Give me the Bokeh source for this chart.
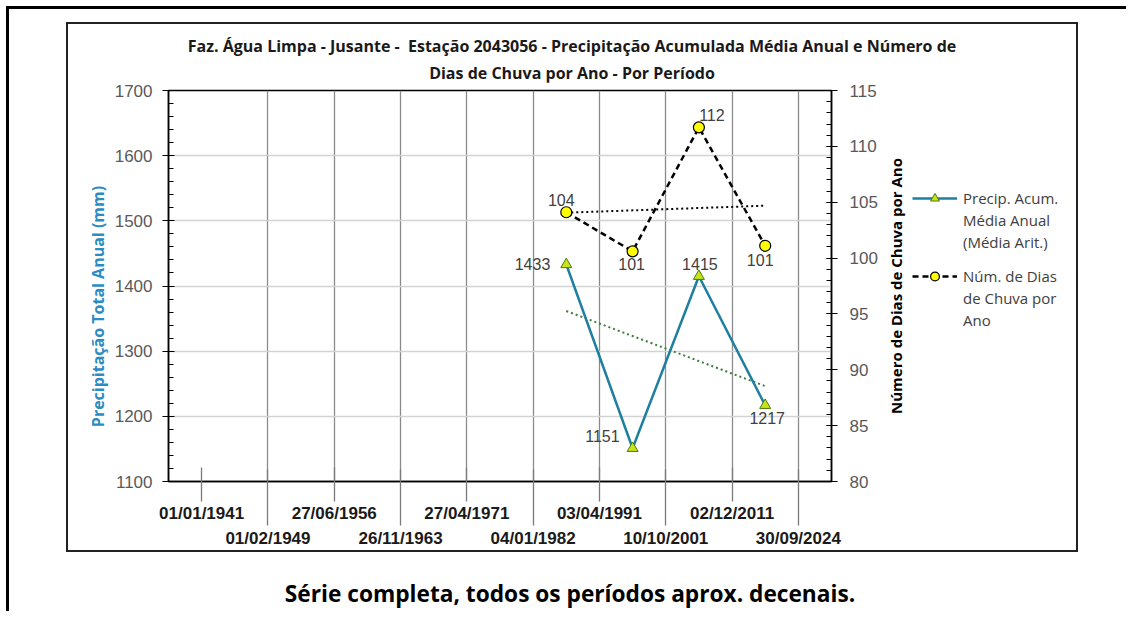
import numpy as np
from bokeh.plotting import figure
from bokeh.models import (Range1d, LinearAxis, FixedTicker, SingleIntervalTicker,
                          Legend, LegendItem, ColumnDataSource, Div)
from bokeh.layouts import column, row
from bokeh.core.properties import value
from bokeh.embed import file_html
from bokeh.resources import INLINE

# ---------------- data ----------------
title_line1 = "Faz. Água Limpa - Jusante -  Estação 2043056 - Precipitação Acumulada Média Anual e Número de"
title_line2 = "Dias de Chuva por Ano - Por Período"
caption_text = "Série completa, todos os períodos aprox. decenais."
left_label = "Precipitação Total Anual (mm)"
right_label = "Número de Dias de Chuva por Ano"

date_labels = ["01/01/1941", "01/02/1949", "27/06/1956", "26/11/1963", "27/04/1971",
               "04/01/1982", "03/04/1991", "10/10/2001", "02/12/2011", "30/09/2024"]
period_start = ["04/01/1982", "03/04/1991", "10/10/2001", "02/12/2011"]
period_end = ["03/04/1991", "10/10/2001", "02/12/2011", "30/09/2024"]
precip_mm = [1433, 1151, 1415, 1217]
rain_days = [104.1, 100.6, 111.7, 101.1]

legend_precip = ["Precip. Acum.", "Média Anual", "(Média Arit.)"]
legend_days = ["Núm. de Dias", "de Chuva por", "Ano"]

# label placement (styles)
p_align = ["right", "right", "center", "center"]
p_xoff = [-16, -13, 1, 2]
p_yoff = [0, -12, -12, 13]
d_xoff = [-5, -1, 13, -5]
d_yoff = [-12, 13, -12, 14]

# ---------------- derived ----------------
x_pos = [(date_labels.index(s) + date_labels.index(e)) / 2 for s, e in zip(period_start, period_end)]
xs = np.array(x_pos)
trend_p = np.polyval(np.polyfit(xs, precip_mm, 1), xs)
trend_d = np.polyval(np.polyfit(xs, rain_days, 1), xs)

src = ColumnDataSource(dict(
    x=x_pos, precip=precip_mm, days=rain_days,
    plab=[str(v) for v in precip_mm], dlab=[str(int(round(v))) for v in rain_days],
    palign=p_align, pxo=p_xoff, pyo=p_yoff, dxo=d_xoff, dyo=d_yoff,
    tp=list(trend_p), td=list(trend_d)))

TEAL = "#1f7f9f"
TICK_GRAY = "#595959"
TRI_FILL, TRI_LINE = "#c8e21c", "#4d7a0a"


def blank_panel(width, x_end, mbl, mbt, mbb):
    f = figure(width=width, height=468, x_range=Range1d(0, x_end), y_range=Range1d(0, 391),
               output_backend="svg", toolbar_location=None, title=None,
               min_border_left=mbl, min_border_right=0, min_border_top=mbt,
               min_border_bottom=mbb)
    f.xaxis.visible = False
    f.grid.visible = False
    f.outline_line_color = None
    f.background_fill_color = "white"
    f.border_fill_color = "white"
    return f


# ---------------- header (chart title) ----------------
header = Div(text=title_line1 + "\n" + title_line2, render_as_text=True, width=1008, height=58,
             margin=(0, 0, 0, 0),
             styles={"font-family": "Open Sans", "font-weight": "bold", "font-size": "16px",
                     "line-height": "27px", "text-align": "center", "white-space": "pre",
                     "color": "#1a1a1a", "padding-top": "9px", "box-sizing": "border-box"})

# ---------------- left title panel (axis title of the precipitation scale) ----------------
left_fig = blank_panel(42, 42, mbl=0, mbt=8, mbb=69)
left_fig.yaxis.visible = False
left_fig.text(x=[29], y=[175], text=[left_label], angle=90, angle_units="deg",
              text_align="center", text_baseline="middle", text_font=value("Open Sans"),
              text_font_style="bold", text_font_size="16px", text_color="#2b8cc4")

# ---------------- main plot ----------------
p = figure(width=770, height=468, x_range=Range1d(-0.5, 9.5), y_range=Range1d(1100, 1700),
           output_backend="svg", toolbar_location=None, title=None,
           min_border_left=58, min_border_right=48, min_border_top=8, min_border_bottom=69)
p.extra_y_ranges = {"days": Range1d(80, 115)}
p.background_fill_color = "white"
p.border_fill_color = "white"
p.outline_line_color = "black"
p.outline_line_width = 1.5

p.ygrid.grid_line_color = "#d3d3d3"
p.ygrid.grid_line_width = 1.5
p.xgrid.ticker = FixedTicker(ticks=list(range(1, len(date_labels))))
p.xgrid.grid_line_color = "#8a8a8a"
p.xgrid.grid_line_width = 1.3

ya = p.yaxis[0]
ya.ticker = SingleIntervalTicker(interval=100, num_minor_ticks=5)
ya.major_tick_in = 6
ya.major_tick_out = 6
ya.minor_tick_in = 5
ya.minor_tick_out = 0
ya.axis_line_color = "black"
ya.axis_line_width = 1.5
ya.major_tick_line_color = "black"
ya.minor_tick_line_color = "black"
ya.major_label_text_font = "Liberation Sans"
ya.major_label_text_font_size = "17px"
ya.major_label_text_color = TICK_GRAY
ya.major_label_standoff = 10

# bottom axis, row 1 (even boundaries)
xa = p.xaxis[0]
xa.ticker = FixedTicker(ticks=list(range(0, 10, 2)))
xa.major_label_overrides = {i: date_labels[i] for i in range(0, 10, 2)}
xa.major_tick_in = 14
xa.major_tick_out = 20
xa.minor_tick_in = 0
xa.minor_tick_out = 0
xa.major_tick_line_color = "#7a7a7a"
xa.major_tick_line_width = 1.3
xa.axis_line_color = "black"
xa.axis_line_width = 1.5
xa.major_label_text_font = "Liberation Sans"
xa.major_label_text_font_style = "bold"
xa.major_label_text_font_size = "17px"
xa.major_label_text_color = "#1a1a1a"
xa.major_label_standoff = 2

# bottom axis, row 2 (odd boundaries), ticks reach up into the plot
xa2 = LinearAxis(ticker=FixedTicker(ticks=list(range(1, 10, 2))),
                 major_label_overrides={i: date_labels[i] for i in range(1, 10, 2)},
                 major_tick_in=56, major_tick_out=0, minor_tick_in=0, minor_tick_out=0,
                 major_tick_line_color="#7a7a7a", major_tick_line_width=1.3,
                 axis_line_color=None,
                 major_label_text_font="Liberation Sans", major_label_text_font_style="bold",
                 major_label_text_font_size="17px", major_label_text_color="#1a1a1a",
                 major_label_standoff=3)
p.add_layout(xa2, "below")

# right axis
ra = LinearAxis(y_range_name="days", ticker=SingleIntervalTicker(interval=5, num_minor_ticks=5),
                major_tick_in=5, major_tick_out=6, minor_tick_in=5, minor_tick_out=0,
                axis_line_color="black", axis_line_width=1.5,
                major_tick_line_color="black", minor_tick_line_color="black",
                major_label_text_font="Liberation Sans", major_label_text_font_size="17px",
                major_label_text_color=TICK_GRAY, major_label_standoff=12)
p.add_layout(ra, "right")

# trend lines
p.line("x", "tp", source=src, line_color="#3b7d3b", line_width=2, line_dash="2 3")
p.line("x", "td", source=src, line_color="black", line_width=2, line_dash="2 3", y_range_name="days")

# series
p.line("x", "precip", source=src, line_color=TEAL, line_width=2.5)
p.scatter("x", "precip", source=src, marker="triangle", size=11,
          fill_color=TRI_FILL, line_color=TRI_LINE, line_width=1)
p.line("x", "days", source=src, line_color="black", line_width=2.5, line_dash="6 4",
       y_range_name="days")
p.scatter("x", "days", source=src, marker="circle", size=11, fill_color="#ffff00",
          line_color="black", line_width=1.2, y_range_name="days")

# data labels
p.text("x", "precip", text="plab", source=src, x_offset="pxo", y_offset="pyo",
       text_align="palign", text_baseline="middle", text_font=value("Liberation Sans"),
       text_font_size="16px", text_color="#404040")
p.text("x", "days", text="dlab", source=src, x_offset="dxo", y_offset="dyo",
       text_align="center", text_baseline="middle", text_font=value("Liberation Sans"),
       text_font_size="16px", text_color="#404040", y_range_name="days")

# ---------------- side panel: right-axis title + legend ----------------
side = blank_panel(196, 1, mbl=30, mbt=8, mbb=69)
side.x_range = Range1d(-10, -9)
side.y_range = Range1d(-10, -9)
sax = side.yaxis[0]
sax.ticker = FixedTicker(ticks=[])
sax.axis_line_color = None
sax.major_tick_out = 0
sax.major_tick_in = 0
sax.minor_tick_out = 0
sax.minor_tick_in = 0
sax.axis_label = right_label
sax.axis_label_text_font = "Open Sans"
sax.axis_label_text_font_style = "bold"
sax.axis_label_text_font_size = "15px"
sax.axis_label_text_color = "black"
sax.axis_label_standoff = 5

# legend glyph sources (same data, outside this panel's view)
sl1 = side.line("x", "precip", source=src, line_color=TEAL, line_width=2.5)
sm1 = side.scatter("x", "precip", source=src, marker="triangle", size=11,
                   fill_color=TRI_FILL, line_color=TRI_LINE, line_width=1)
sl2 = side.line("x", "days", source=src, line_color="black", line_width=2.5, line_dash="6 4")
sm2 = side.scatter("x", "days", source=src, marker="circle", size=11, fill_color="#ffff00",
                   line_color="black", line_width=1.2)


def make_legend(lines, renderers, loc):
    its = [LegendItem(label=value(lines[0]), renderers=renderers)]
    its += [LegendItem(label=value(t), renderers=[]) for t in lines[1:]]
    return Legend(items=its, location=loc, orientation="vertical", glyph_width=45,
                  glyph_height=22, label_height=22, label_standoff=6, spacing=0, padding=0,
                  margin=0, border_line_color=None, background_fill_alpha=0,
                  label_text_font="Open Sans", label_text_font_size="15px",
                  label_text_color="#404040")


side.add_layout(make_legend(legend_precip, [sl1, sm1], (2, 228)))
side.add_layout(make_legend(legend_days, [sl2, sm2], (2, 150)))

box = column(header, row(left_fig, p, side), width=1012, height=530, margin=(13, 0, 0, 57),
             styles={"border": "2px solid #222", "box-sizing": "border-box",
                     "background-color": "white"})

cap = Div(text=caption_text, render_as_text=True, width=660, margin=(26, 0, 0, 231),
          styles={"text-align": "center", "font-family": "Open Sans", "font-weight": "bold",
                  "font-size": "22.7px", "color": "black"})

root = column(box, cap, width=1120, height=605, margin=(6, 0, 0, 6),
              styles={"border-top": "3px solid black", "border-left": "3px solid black"})

open("out.html", "w").write(file_html(root, INLINE))
